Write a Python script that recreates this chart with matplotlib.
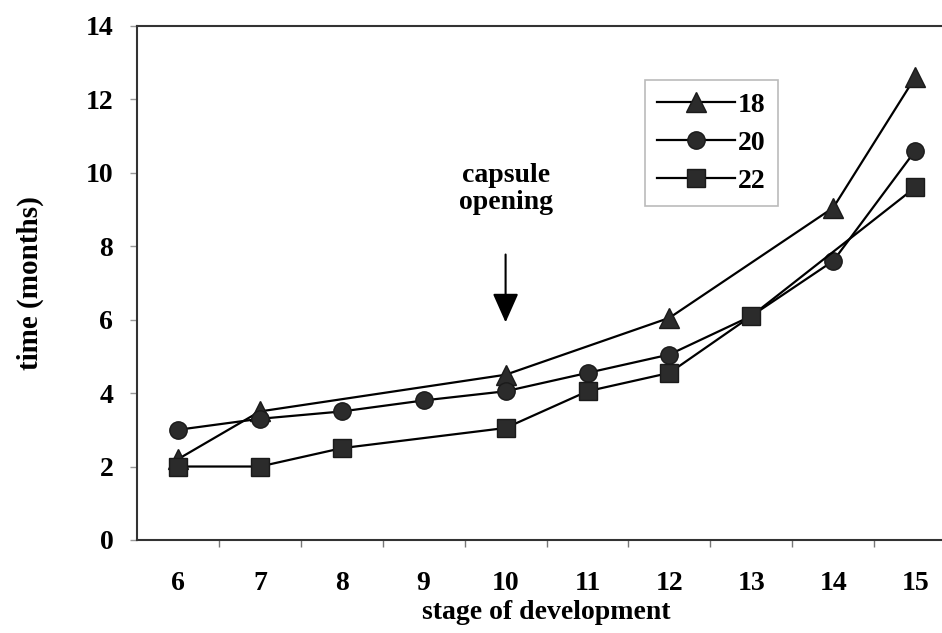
import numpy as np
import matplotlib.pyplot as plt
from matplotlib.ticker import FixedLocator

plt.rcParams["font.family"] = ["Liberation Serif", "DejaVu Serif"]
plt.rcParams["font.weight"] = "bold"

stages = [6, 7, 8, 9, 10, 11, 12, 13, 14, 15]

# series: stage -> time (months)
stage_18 = [6, 7, 10, 12, 14, 15]
time_18 = [2.2, 3.5, 4.5, 6.05, 9.05, 12.6]

stage_20 = [6, 7, 8, 9, 10, 11, 12, 13, 14, 15]
time_20 = [3.0, 3.3, 3.5, 3.8, 4.05, 4.55, 5.05, 6.1, 7.6, 10.6]

stage_22 = [6, 7, 8, 10, 11, 12, 13, 15]
time_22 = [2.0, 2.0, 2.5, 3.05, 4.05, 4.55, 6.1, 9.6]

yticks = [0, 2, 4, 6, 8, 10, 12, 14]

fig = plt.figure(figsize=(9.42, 6.33), dpi=100)
ax = fig.add_axes([0.1454, 0.147, 0.8696, 0.812])

pos = {s: i for i, s in enumerate(stages)}
mfc = "#2b2b2b"
for xs, ys, mk, ms, lab in [
    (stage_18, time_18, "^", 15, "18"),
    (stage_20, time_20, "o", 12.5, "20"),
    (stage_22, time_22, "s", 12.5, "22"),
]:
    ax.plot([pos[s] for s in xs], ys, color="black", linewidth=1.6,
            marker=mk, markersize=ms, markerfacecolor=mfc,
            markeredgecolor="#1a1a1a", label=lab)

ax.set_xlim(-0.5, len(stages) - 0.5)
ax.set_ylim(0, 14)
ax.set_xticks(range(len(stages)))
ax.set_xticklabels([str(s) for s in stages])
ax.xaxis.set_minor_locator(FixedLocator(np.arange(0.5, len(stages) - 0.5, 1)))
ax.tick_params(axis="x", which="major", length=0, pad=22, labelsize=20)
ax.tick_params(axis="x", which="minor", length=5, width=1, color="#777777",
               direction="out")
ax.set_yticks(yticks)
ax.tick_params(axis="y", length=5, width=1, color="#999999", direction="out",
               pad=12, labelsize=20)

for side in ["left", "bottom", "top"]:
    ax.spines[side].set_color("#333333")
    ax.spines[side].set_linewidth(1.5)
ax.spines["right"].set_visible(False)

ax.set_xlabel("stage of development", fontsize=20, fontweight="bold",
              labelpad=3)
ax.set_ylabel("time (months)", fontsize=21, fontweight="bold", labelpad=30)

# capsule opening annotation
ax.annotate("", xy=(pos[10], 5.85), xytext=(pos[10], 7.85),
            arrowprops=dict(arrowstyle="-|>,head_length=0.9,head_width=0.4",
                            mutation_scale=20, color="black", linewidth=1.5))
ax.text(pos[10], 9.55, "capsule\nopening", ha="center", va="center",
        fontsize=20, fontweight="bold", linespacing=1.1)

leg = ax.legend(loc="upper left", bbox_to_anchor=(0.62, 0.895),
                fontsize=20, frameon=True, fancybox=False,
                handlelength=2.8, handletextpad=0.1, borderpad=0.45,
                labelspacing=0.45, borderaxespad=0)
leg.get_frame().set_edgecolor("#aaaaaa")
leg.get_frame().set_linewidth(1.2)

fig.savefig("out.png", dpi=100, facecolor="white")
